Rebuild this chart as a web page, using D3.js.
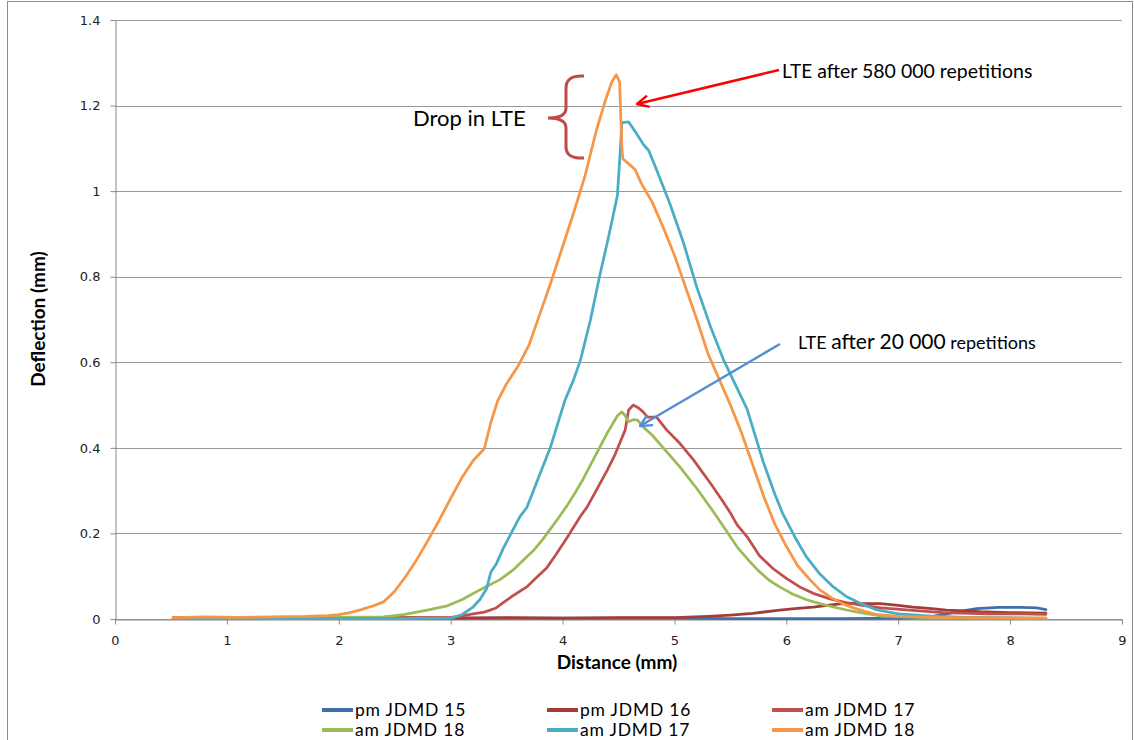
<!DOCTYPE html>
<html>
<head>
<meta charset="utf-8">
<script src="https://cdn.jsdelivr.net/npm/d3@7"></script>
<style>
  body { margin: 0; background: #fff; }
  .tick text { font-family: "DejaVu Sans", Verdana, sans-serif; font-size: 13px; fill: #222; }
  .axis-title { font-family: Lato, "Liberation Sans", sans-serif; font-weight: bold; font-size: 19px; fill: #000; }
  .legend text { font-family: Lato, "Liberation Sans", sans-serif; font-size: 17.5px; letter-spacing: 0.8px; fill: #000; }
  .note { font-family: Lato, "Liberation Sans", sans-serif; fill: #000; }
</style>
</head>
<body>
<div class="chart"></div>
<script>
var svgWidth = 1134;
var svgHeight = 740;

var margin = {
    top: 20,
    right: 12,
    bottom: 121,
    left: 115
};

var width = svgWidth - margin.left - margin.right;
var height = svgHeight - margin.top - margin.bottom;

// series: [distance (mm), deflection (mm)]
var pmJDMD15 = [[0.52,0.002],[1.0,0.003],[1.5,0.002],[2.0,0.002],[2.5,0.002],[3.0,0.002],[3.5,0.002],[4.0,0.002],
    [4.5,0.002],[5.0,0.002],[5.5,0.001],[6.0,0.001],[6.5,0.001],[7.0,0.002],[7.25,0.004],[7.4,0.01],[7.55,0.018],
    [7.7,0.024],[7.9,0.027],[8.1,0.027],[8.24,0.026],[8.32,0.022]];

var pmJDMD16 = [[0.52,0.003],[1.0,0.002],[1.5,0.003],[2.0,0.002],[2.5,0.003],[3.0,0.002],[3.5,0.003],[4.0,0.002],
    [4.5,0.003],[5.0,0.003],[5.3,0.006],[5.5,0.009],[5.7,0.013],[5.94,0.021],[6.1,0.025],[6.24,0.028],[6.4,0.033],
    [6.54,0.037],[6.7,0.036],[6.84,0.036],[7.0,0.032],[7.13,0.028],[7.3,0.024],[7.43,0.021],[7.6,0.019],[7.73,0.017],
    [8.0,0.015],[8.32,0.014]];

var amJDMD17 = [[0.52,0.002],[1.0,0.003],[1.5,0.002],[2.0,0.003],[2.5,0.003],[3.0,0.004],[3.08,0.006],[3.2,0.012],
    [3.3,0.016],[3.4,0.025],[3.47,0.038],[3.56,0.055],[3.68,0.075],[3.76,0.095],[3.86,0.12],[3.94,0.15],[4.04,0.19],
    [4.1,0.215],[4.16,0.24],[4.22,0.262],[4.3,0.3],[4.4,0.348],[4.47,0.385],[4.51,0.41],[4.56,0.442],[4.59,0.488],
    [4.63,0.5],[4.68,0.493],[4.72,0.484],[4.76,0.472],[4.84,0.472],[4.93,0.442],[5.05,0.41],[5.17,0.372],[5.32,0.318],
    [5.42,0.28],[5.5,0.248],[5.56,0.22],[5.65,0.192],[5.76,0.148],[5.88,0.118],[6.0,0.095],[6.12,0.075],[6.24,0.06],
    [6.39,0.047],[6.54,0.038],[6.68,0.032],[6.85,0.026],[7.13,0.02],[7.4,0.015],[7.8,0.012],[8.1,0.012],[8.32,0.011]];

var amJDMD18 = [[0.52,0.002],[1.0,0.003],[1.5,0.003],[2.0,0.004],[2.4,0.005],[2.58,0.01],[2.78,0.02],[2.96,0.03],
    [3.1,0.045],[3.26,0.068],[3.44,0.092],[3.56,0.115],[3.66,0.14],[3.74,0.16],[3.82,0.185],[3.89,0.21],[3.96,0.235],
    [4.04,0.265],[4.1,0.29],[4.18,0.325],[4.25,0.36],[4.33,0.4],[4.4,0.435],[4.45,0.457],[4.49,0.475],[4.53,0.484],
    [4.56,0.475],[4.59,0.461],[4.63,0.466],[4.67,0.465],[4.72,0.449],[4.8,0.43],[4.9,0.4],[5.05,0.355],[5.2,0.305],
    [5.35,0.25],[5.48,0.2],[5.57,0.165],[5.66,0.138],[5.75,0.113],[5.85,0.09],[5.94,0.075],[6.06,0.058],[6.18,0.045],
    [6.3,0.036],[6.42,0.028],[6.54,0.021],[6.66,0.015],[6.84,0.007],[7.2,0.004],[7.8,0.003],[8.32,0.002]];

var amJDMD17b = [[0.52,0.001],[1.5,0.001],[2.5,0.001],[3.0,0.002],[3.1,0.01],[3.2,0.028],[3.26,0.045],[3.32,0.07],
    [3.36,0.11],[3.41,0.13],[3.47,0.165],[3.56,0.21],[3.62,0.24],[3.68,0.26],[3.77,0.32],[3.89,0.4],[4.02,0.51],
    [4.1,0.56],[4.16,0.605],[4.25,0.7],[4.33,0.8],[4.4,0.88],[4.45,0.94],[4.49,0.99],[4.51,1.07],[4.53,1.16],
    [4.59,1.162],[4.66,1.135],[4.72,1.11],[4.77,1.095],[4.84,1.05],[4.9,1.01],[4.96,0.97],[5.08,0.88],[5.2,0.775],
    [5.32,0.685],[5.44,0.605],[5.55,0.545],[5.65,0.49],[5.79,0.37],[5.9,0.29],[5.97,0.245],[6.08,0.19],[6.18,0.145],
    [6.3,0.105],[6.42,0.075],[6.54,0.052],[6.66,0.037],[6.8,0.022],[7.0,0.012],[7.3,0.007],[7.6,0.004],[8.0,0.002],
    [8.32,0.001]];

var amJDMD18b = [[0.52,0.003],[0.8,0.005],[1.1,0.004],[1.4,0.005],[1.7,0.006],[1.9,0.008],[2.0,0.01],[2.1,0.015],
    [2.2,0.022],[2.3,0.03],[2.4,0.04],[2.5,0.065],[2.6,0.1],[2.7,0.14],[2.8,0.185],[2.9,0.232],[3.0,0.282],[3.1,0.33],
    [3.2,0.37],[3.3,0.398],[3.36,0.46],[3.42,0.51],[3.5,0.55],[3.6,0.59],[3.7,0.64],[3.8,0.715],[3.9,0.79],[4.0,0.87],
    [4.1,0.95],[4.2,1.035],[4.3,1.14],[4.38,1.21],[4.44,1.255],[4.48,1.272],[4.51,1.255],[4.53,1.1],[4.54,1.075],
    [4.6,1.062],[4.65,1.05],[4.7,1.02],[4.8,0.975],[4.9,0.915],[5.0,0.85],[5.1,0.775],[5.2,0.7],[5.3,0.62],[5.4,0.56],
    [5.5,0.5],[5.6,0.435],[5.7,0.36],[5.8,0.285],[5.9,0.22],[6.0,0.17],[6.1,0.125],[6.2,0.095],[6.3,0.068],[6.4,0.05],
    [6.5,0.036],[6.6,0.026],[6.7,0.018],[6.8,0.011],[7.0,0.006],[7.5,0.003],[8.0,0.002],[8.32,0.002]];

var seriesNames = ["pm JDMD 15", "pm JDMD 16", "am JDMD 17", "am JDMD 18", "am JDMD 17", "am JDMD 18"];
var seriesColors = ["#4170A8", "#A33D3A", "#C0504D", "#9BBB59", "#4BACC6", "#F79646"];
var seriesData = [pmJDMD15, pmJDMD16, amJDMD17, amJDMD18, amJDMD17b, amJDMD18b];

var xTicks = [0, 1, 2, 3, 4, 5, 6, 7, 8, 9];
var yTicks = [0, 0.2, 0.4, 0.6, 0.8, 1, 1.2, 1.4];

var svg = d3
    .select(".chart")
    .append("svg")
    .attr("width", svgWidth)
    .attr("height", svgHeight);

// chart area border
svg.append("rect")
    .attr("x", 7.5)
    .attr("y", 1.5)
    .attr("width", 1125)
    .attr("height", 745)
    .attr("fill", "none")
    .attr("stroke", "#8c8c8c");

var chartGroup = svg.append("g")
    .attr("transform", `translate(${margin.left}, ${margin.top})`);

var xLinearScale = d3.scaleLinear().domain([0, 9]).range([0, width]);
var yLinearScale = d3.scaleLinear().domain([0, 1.4]).range([height, 0]);

// gridlines
chartGroup.append("g")
    .selectAll("line")
    .data(yTicks)
    .enter()
    .append("line")
    .attr("x1", 0)
    .attr("x2", width)
    .attr("y1", d => Math.round(yLinearScale(d)) + 0.5)
    .attr("y2", d => Math.round(yLinearScale(d)) + 0.5)
    .attr("stroke", "#999")
    .attr("stroke-width", 1);

var leftAxis = d3.axisLeft(yLinearScale)
    .tickValues(yTicks)
    .tickFormat(d3.format("~g"))
    .tickSizeInner(5)
    .tickSizeOuter(0)
    .tickPadding(10);

var bottomAxis = d3.axisBottom(xLinearScale)
    .tickValues(xTicks)
    .tickFormat(d3.format("d"))
    .tickSizeInner(5)
    .tickSizeOuter(0)
    .tickPadding(11);

var yAxis = chartGroup.append("g")
    .attr("transform", "translate(0.5,0)")
    .call(leftAxis);

var xAxis = chartGroup.append("g")
    .attr("transform", `translate(0, ${Math.round(height) + 0.5})`)
    .call(bottomAxis);

chartGroup.selectAll(".domain, .tick line").attr("stroke", "#888");

// data lines
var line = d3.line()
    .x(d => xLinearScale(d[0]))
    .y(d => yLinearScale(d[1]));

chartGroup.append("g")
    .selectAll("path")
    .data(seriesData)
    .enter()
    .append("path")
    .attr("d", d => line(d))
    .attr("fill", "none")
    .attr("stroke", (d, i) => seriesColors[i])
    .attr("stroke-width", 2.75)
    .attr("stroke-linejoin", "round")
    .attr("stroke-linecap", "round");

// axis titles
svg.append("text")
    .classed("axis-title", true)
    .attr("x", 617)
    .attr("y", 669)
    .attr("text-anchor", "middle")
    .text("Distance (mm)");

svg.append("text")
    .classed("axis-title", true)
    .attr("transform", "translate(45, 319) rotate(-90)")
    .attr("text-anchor", "middle")
    .text("Deflection (mm)");

// legend: 3 columns x 2 rows
var legend = svg.append("g").classed("legend", true);
var legendItems = legend.selectAll("g")
    .data(seriesNames)
    .enter()
    .append("g")
    .attr("transform", (d, i) => `translate(${322 + (i % 3) * 225}, ${710 + Math.floor(i / 3) * 20})`);

legendItems.append("line")
    .attr("x1", 0)
    .attr("x2", 31)
    .attr("y1", 0)
    .attr("y2", 0)
    .attr("stroke", (d, i) => seriesColors[i])
    .attr("stroke-width", 4);

legendItems.append("text")
    .attr("x", 33)
    .attr("y", 6)
    .text(d => d);

// annotations
var defs = svg.append("defs");
function arrowMarker(id, color) {
    defs.append("marker")
        .attr("id", id)
        .attr("viewBox", "0 0 12 12")
        .attr("refX", 11)
        .attr("refY", 6)
        .attr("markerUnits", "userSpaceOnUse")
        .attr("markerWidth", 14)
        .attr("markerHeight", 14)
        .attr("orient", "auto")
        .append("path")
        .attr("d", "M1,1 L11,6 L1,11")
        .attr("fill", "none")
        .attr("stroke", color)
        .attr("stroke-width", 2)
        .attr("stroke-linejoin", "round");
}
arrowMarker("arrowRed", "#FF0000");
arrowMarker("arrowBlue", "#558ED5");

svg.append("line")
    .attr("x1", 779).attr("y1", 70)
    .attr("x2", 637).attr("y2", 104)
    .attr("stroke", "#FF0000")
    .attr("stroke-width", 2.5)
    .attr("marker-end", "url(#arrowRed)");

svg.append("line")
    .attr("x1", 780).attr("y1", 344)
    .attr("x2", 640).attr("y2", 426)
    .attr("stroke", "#558ED5")
    .attr("stroke-width", 2.5)
    .attr("marker-end", "url(#arrowBlue)");

// curly bracket
svg.append("path")
    .attr("d", "M584,76 Q566,75 566,88 L566,108 Q566,118 548,118 Q566,118 566,128 L566,147 Q566,159 584,158")
    .attr("fill", "none")
    .attr("stroke", "#BE4B48")
    .attr("stroke-width", 3);

svg.append("text")
    .classed("note", true)
    .attr("x", 413)
    .attr("y", 126)
    .style("font-size", "22px")
    .text("Drop in LTE");

var note1 = svg.append("text")
    .classed("note", true)
    .attr("x", 782)
    .attr("y", 78);
note1.append("tspan").style("font-size", "19px").text("LTE");
note1.append("tspan").style("font-size", "19.5px").text(" after 580 000 repetitions");

var note2 = svg.append("text")
    .classed("note", true)
    .attr("x", 798)
    .attr("y", 349);
note2.append("tspan").style("font-size", "18px").text("LTE ");
note2.append("tspan").style("font-size", "21px").text("after 20 000");
note2.append("tspan").style("font-size", "18px").text(" repetitions");
</script>
</body>
</html>
